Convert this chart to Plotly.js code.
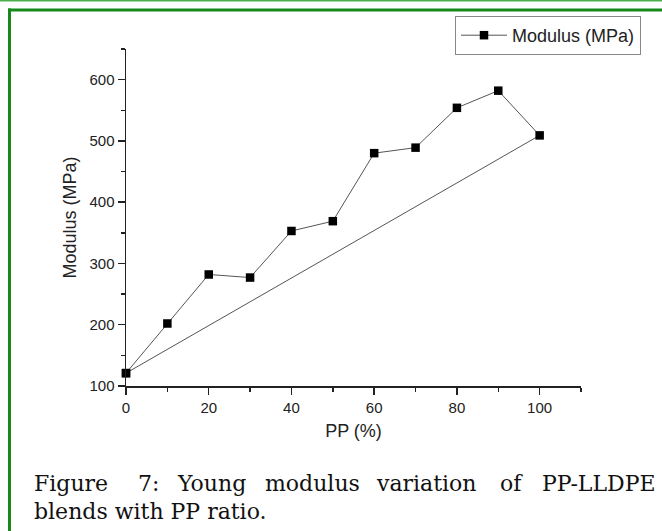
<!DOCTYPE html>
<html>
<head>
<meta charset="utf-8">
<script src="https://cdn.plot.ly/plotly-3.0.1.min.js"></script>
<style>
  html, body { margin: 0; padding: 0; background: #ffffff; }
  #chart { width: 662px; height: 531px; }
</style>
</head>
<body>
<div id="chart"></div>
<script>
// ---- data ----
const ppPercent = [0, 10, 20, 30, 40, 50, 60, 70, 80, 90, 100];
const modulusMPa = [121, 202, 282, 277, 353, 369, 480, 489, 554, 582, 509];
const seriesName = "Modulus (MPa)";
const xTitle = "PP (%)";
const yTitle = "Modulus (MPa)";
const captionLine1Words = ["Figure", "7:", "Young", "modulus", "variation", "of", "PP-LLDPE"];
const captionLine2 = "blends with PP ratio.";

// ---- layout geometry (pixels) ----
const W = 662, H = 531;
const M = { l: 126, r: 81, t: 49, b: 145 };
const plotW = W - M.l - M.r, plotH = H - M.t - M.b;
const px2x = p => (p - M.l) / plotW;
const py2y = p => (H - M.b - p) / plotH;

// closed polyline: last point connects back to first, as in the reference
const xs = ppPercent.concat([ppPercent[0]]);
const ys = modulusMPa.concat([modulusMPa[0]]);

const trace = {
  x: xs, y: ys, type: "scatter", mode: "lines+markers", name: seriesName,
  line: { color: "#555555", width: 1 },
  marker: { symbol: "square", size: 8.5, color: "#000000" },
  cliponaxis: false
};

const sansFont = "Arial, 'Liberation Sans', sans-serif";
const serifFont = "'DejaVu Serif', serif";

// caption word positions (left edges, justified line)
const wordLefts = [32, 136, 175, 263, 374, 498, 540];
const annotations = captionLine1Words.map((w, i) => ({
  text: w, xref: "paper", yref: "paper", x: px2x(wordLefts[i]), y: py2y(483),
  xanchor: "left", yanchor: "middle", showarrow: false,
  font: { family: serifFont, size: 22, color: "#111111" }
}));
annotations.push({
  text: captionLine2, xref: "paper", yref: "paper", x: px2x(32), y: py2y(511),
  xanchor: "left", yanchor: "middle", showarrow: false,
  font: { family: serifFont, size: 22, color: "#111111" }
});

const green = "#15891a";
const shapes = [
  { type: "line", xref: "paper", yref: "paper", x0: px2x(0), x1: px2x(662), y0: py2y(0.5), y1: py2y(0.5),
    line: { color: "#4cae4c", width: 2 } },
  { type: "line", xref: "paper", yref: "paper", x0: px2x(8), x1: px2x(662), y0: py2y(10), y1: py2y(10),
    line: { color: green, width: 3 } },
  { type: "line", xref: "paper", yref: "paper", x0: px2x(9.5), x1: px2x(9.5), y0: py2y(8.5), y1: py2y(531),
    line: { color: green, width: 3 } }
];

const layout = {
  width: W, height: H,
  margin: M,
  paper_bgcolor: "#ffffff", plot_bgcolor: "#ffffff",
  font: { family: sansFont, color: "#222222" },
  showlegend: true,
  legend: {
    x: px2x(455), y: py2y(16), xanchor: "left", yanchor: "top",
    itemwidth: 46,
    bgcolor: "#ffffff", bordercolor: "#888888", borderwidth: 1,
    font: { family: sansFont, size: 18, color: "#222222" }
  },
  xaxis: {
    range: [0, 110], dtick: 20, tick0: 0,
    showgrid: false, zeroline: false, automargin: true,
    showline: true, linecolor: "#222222", linewidth: 1.5,
    ticks: "outside", ticklen: 7, tickwidth: 1.5, tickcolor: "#222222",
    minor: { dtick: 10, ticks: "outside", ticklen: 4, tickwidth: 1.5, tickcolor: "#222222", showgrid: false },
    tickfont: { family: sansFont, size: 15, color: "#222222" },
    title: { text: xTitle, standoff: 10, font: { family: sansFont, size: 18, color: "#222222" } }
  },
  yaxis: {
    range: [100, 650], dtick: 100, tick0: 100,
    showgrid: false, zeroline: false, automargin: true,
    showline: true, linecolor: "#222222", linewidth: 1.5,
    ticks: "outside", ticklen: 7, tickwidth: 1.5, tickcolor: "#222222",
    minor: { dtick: 50, ticks: "outside", ticklen: 4, tickwidth: 1.5, tickcolor: "#222222", showgrid: false },
    tickfont: { family: sansFont, size: 15, color: "#222222" },
    title: { text: yTitle, standoff: 8, font: { family: sansFont, size: 18, color: "#222222" } }
  },
  annotations: annotations,
  shapes: shapes
};

Plotly.newPlot("chart", [trace], layout, { displayModeBar: false, staticPlot: true });
</script>
</body>
</html>
